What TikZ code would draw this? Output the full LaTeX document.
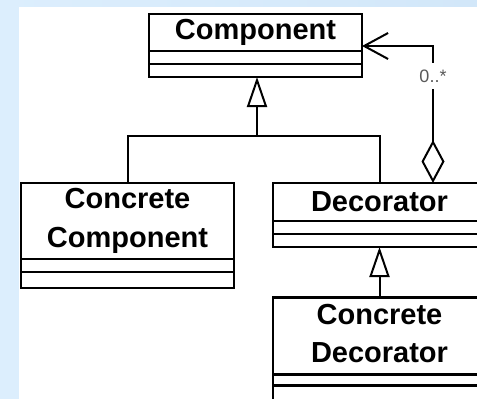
\documentclass[tikz,border=0pt]{standalone}
\usepackage{fontspec}
\setmainfont{Liberation Sans}
\usetikzlibrary{arrows.meta,positioning}
\definecolor{bgblue}{HTML}{DCEEFD}
\definecolor{bgblue2}{HTML}{D2E7F9}
\definecolor{multgray}{HTML}{5A5A5A}
\tikzset{
  classtitle/.style={draw, line width=2.5pt, minimum width=213pt, inner sep=0pt, outer sep=0pt, align=center, font=\fontsize{29}{39}\selectfont\bfseries},
  compart/.style={draw, line width=2.5pt, minimum width=213pt, minimum height=13pt, inner sep=0pt, outer sep=0pt},
  conn/.style={line width=2pt},
  gen/.style={conn, -{Triangle[open, length=30pt, width=20pt]}},
  agg/.style={conn, {Diamond[open, length=43pt, width=23pt]}-{Straight Barb[length=24pt, width=26pt]}},
  mult/.style={fill=white, inner sep=0pt, minimum height=26pt, text=multgray, font=\fontsize{18}{20}\selectfont}
}
\begin{document}
\begin{tikzpicture}[x=1pt,y=-1pt]
\useasboundingbox (0,0) rectangle (477,399);
\begin{scope}
\clip (0,0) rectangle (477,399);
\shade[left color=bgblue, right color=bgblue2] (0,0) rectangle (477,399);
\fill[white] (19,7) rectangle (477,399);

% Component
\node[classtitle, minimum height=37pt] (comp) at (255.5,32.5) {Component};
\node[compart, below=0pt of comp] (comp1) {};
\node[compart, below=0pt of comp1] (comp2) {};

% Concrete Component
\node[classtitle, minimum height=76pt] (ccomp) at (127.5,221) {Concrete\\Component};
\node[compart, below=0pt of ccomp] (ccomp1) {};
\node[compart, minimum height=16pt, below=0pt of ccomp1] (ccomp2) {};

% Decorator
\node[classtitle, minimum height=38pt] (dec) at (379.5,202) {Decorator};
\node[compart, below=0pt of dec] (dec1) {};
\node[compart, below=0pt of dec1] (dec2) {};

% Concrete Decorator
\node[classtitle, minimum height=74pt] (cdec) at (379.5,336) {\raisebox{2pt}{\begin{tabular}{@{}c@{}}Concrete\\[-1pt]Decorator\end{tabular}}};
\node[compart, minimum height=11pt, below=0pt of cdec] (cdec1) {};
\node[compart, minimum height=40pt, below=0pt of cdec1] (cdec2) {};

% generalization
\coordinate (j) at (257,136);
\draw[gen] (j) -- (comp2.south -| j);
\draw[conn] (ccomp.north) |- (j) -| (dec.north);
\draw[gen] (cdec.north) -- (dec2.south);

% aggregation
\coordinate (ds) at (433,183);
\coordinate (ae) at (362,46);
\draw[agg] (ds) |- (ae);
\node[mult] (m) at (433,76) {0..*};
\end{scope}
\end{tikzpicture}
\end{document}
